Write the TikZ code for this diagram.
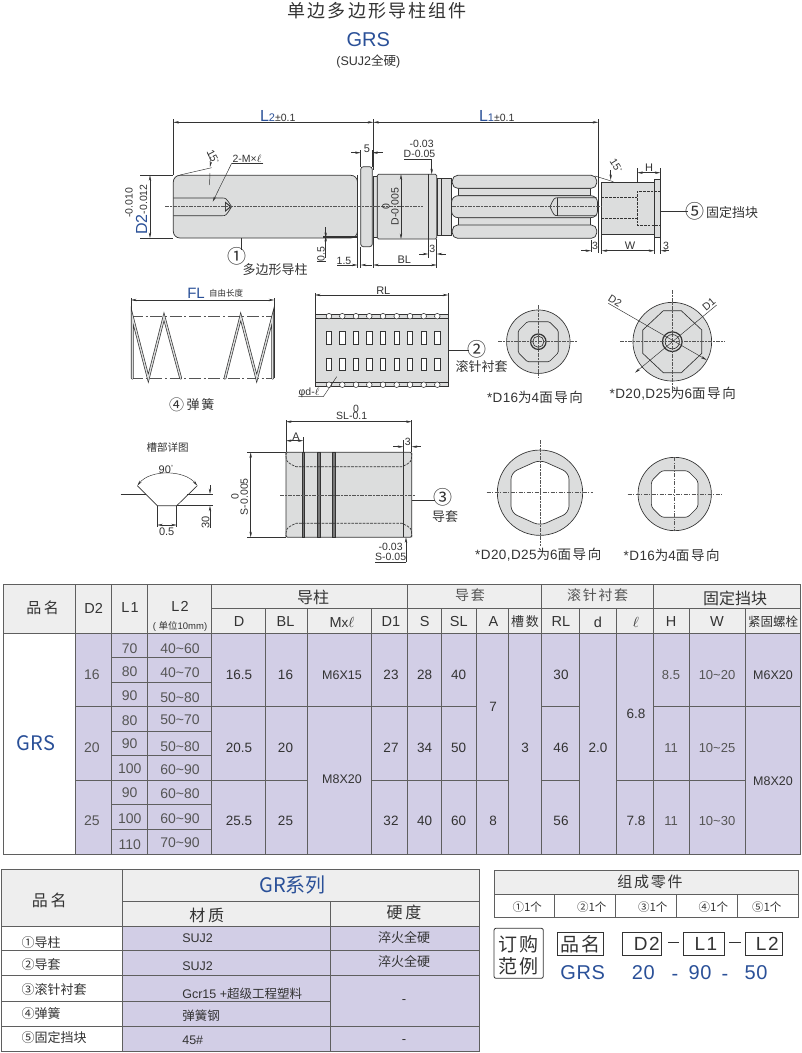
\documentclass[tikz,border=0pt]{standalone}
\usepackage{fontspec}
\usetikzlibrary{arrows.meta}
\setmainfont{Liberation Sans}
\newfontfamily\cjk{Noto Sans CJK SC}
\newfontfamily\cjkw[LetterSpace=12]{Noto Sans CJK SC}
\newfontfamily\latw[LetterSpace=8]{Liberation Sans}
\newfontfamily\latn[LetterSpace=3]{Liberation Sans}
\newcommand\C[1]{{\cjk #1}}
\newcommand\W[1]{{\cjkw #1}}
\makeatletter
\newcommand\fz[1]{\edef\my@s{\strip@pt\dimexpr #1pt*3/4\relax}\fontsize{\my@s}{\my@s}\selectfont}
\makeatother
\definecolor{ink}{HTML}{333333}
\definecolor{blue2}{HTML}{2A5098}
\definecolor{part}{HTML}{DCDDDD}
\definecolor{cell}{HTML}{D2CEE6}
\definecolor{head}{HTML}{EEEEEE}
\definecolor{rule}{HTML}{5F5F5F}
\definecolor{soft}{HTML}{555555}
\newcounter{tn}
\newcommand\tx[4][]{\stepcounter{tn}\node[txt,#1] (t\thetn) at (#2,#3) {#4};}
\tikzset{
  txt/.style={inner sep=0pt,outer sep=0pt,text=ink,font=\fz{11}},
  ln/.style={draw=ink,line width=.5pt},
  thin line/.style={draw=ink,line width=.35pt},
  solid part/.style={fill=part,draw=ink,line width=.55pt},
  dimline/.style={draw=ink,line width=.35pt,{Stealth[length=4.2pt,width=1.8pt]}-{Stealth[length=4.2pt,width=1.8pt]}},
  endarrow/.style={draw=ink,line width=.35pt,-{Stealth[length=4.2pt,width=1.8pt]}},
  startarrow/.style={draw=ink,line width=.35pt,{Stealth[length=4.2pt,width=1.8pt]}-},
  centerline/.style={draw=soft,line width=.4pt,dash pattern=on 3pt off 1pt on 1pt off 1pt},
  hidden/.style={draw=ink,line width=.5pt,dash pattern=on 2pt off .8pt},
  chain/.style={draw=soft,line width=.45pt,dash pattern=on 9pt off 2pt on 1.5pt off 2pt},
  coil/.style={double=part,draw=ink,line width=.5pt,double distance=1pt,line cap=round},
  tline/.style={draw=rule,line width=.55pt},
  cellt/.style={txt,font=\fz{14}},
  big/.style={txt,font=\fz{13}},
}
\begin{document}
\begin{tikzpicture}[x=.75pt,y=-.75pt]
\useasboundingbox (0,0) rectangle (802,1053);
\fill[white] (0,0) rectangle (802,1053);
% ---------- title
\tx[font=\fz{18}]{377.3}{10.7}{\W{单边多边形导柱组件}}
\tx[font=\fz{20},text=blue2]{368.3}{40}{GRS}
\tx[font=\fz{12.5}]{368.3}{61}{(SUJ2\C{全硬})}
% ---------- main drawing : guide post
\draw[solid part,rounded corners=5pt] (357.5,175.3) -- (173.3,175.3) -- (173.3,238) -- (357.5,238) -- cycle;
\draw[ln] (173.3,198) -- (222,198) .. controls (226,198) .. (231.6,206.7) .. controls (226,215.7) .. (222,215.7) -- (173.3,215.7);
\fill[ink] (225,201.5) -- (231.6,206.7) -- (225,211.9) -- cycle;
\fill[part] (225.8,203.5) -- (229.6,206.7) -- (225.8,209.9) -- cycle;
\draw[draw=ink,line width=1.3pt] (357.6,175.3) -- (357.6,238);
\draw[draw=ink,line width=1pt] (323,237) -- (357,237);
\draw[solid part,rounded corners=2pt] (360.7,166.7) -- (372.3,166.7) -- (372.3,246.7) -- (360.7,246.7) -- cycle;
\draw[solid part] (373.3,176) rectangle (377.3,237);
\draw[solid part,rounded corners=1pt] (377.3,174.3) rectangle (436.7,239);
\draw[ln] (428.3,174.3) -- (428.3,239);
\draw[solid part] (437.5,178.3) rectangle (451.7,235.7);
\draw[ln] (441,178.3) -- (441,235.7);
% bearing row
\draw[solid part] (458,188.3) rectangle (590.7,195.7);
\draw[solid part] (458,217.7) rectangle (590.7,225);
\draw[solid part,rounded corners=4pt] (452.3,175.3) rectangle (596.7,188.3);
\draw[solid part,rounded corners=5pt] (451.5,195.7) rectangle (597.5,217.7);
\draw[solid part,rounded corners=4pt] (452.3,225) rectangle (596.7,238.3);
\draw[ln] (598.3,119) -- (598.3,253);
\draw[ln] (596.7,197.7) -- (557.7,197.7) .. controls (554,198) .. (550,206.7) .. controls (554,215.5) .. (557.7,215.7) -- (596.7,215.7);
\draw[ln] (557.7,197.7) -- (557.7,215.7);
% fixed block
\draw[solid part] (601.7,182.3) rectangle (654.3,234);
\draw[solid part] (654.3,179.3) rectangle (660.7,237.3);
\draw[hidden] (601.7,197.7) -- (637.3,197.7);
\draw[hidden] (601.7,218.3) -- (637.3,218.3);
\draw[hidden] (660.7,191.7) -- (637.3,191.7) -- (637.3,225) -- (660.7,225);
\draw[centerline] (165,206.7) -- (423,206.7);
\draw[centerline] (452,206.7) -- (602,206.7);
% dimensions, main
\draw[thin line] (173.3,119) -- (173.3,175);
\draw[thin line] (373.3,119) -- (373.3,170);
\draw[dimline] (173.3,122.3) -- (373.3,122.3);
\draw[dimline] (373.3,122.3) -- (598.3,122.3);
\node[txt,anchor=base west] (l2a) at (260,121) {\fz{16}\textcolor{blue2}{L}\fz{11}\textcolor{blue2}{2}\fz{10.5}±0.1};
\node[txt,anchor=base west] (l1a) at (479,121) {\fz{16}\textcolor{blue2}{L}\fz{11}\textcolor{blue2}{1}\fz{10.5}±0.1};
\draw[thin line] (360.7,150) -- (360.7,167);
\draw[thin line] (372.3,150) -- (372.3,167);
\draw[startarrow] (360.7,152.7) -- (351,152.7);
\draw[startarrow] (372.3,152.7) -- (383,152.7);
\tx[font=\fz{11}]{367}{148.3}{5}
\tx[font=\fz{10.5}]{421.7}{144}{-0.03}
\tx[font=\fz{10.5}]{419.5}{154.3}{D-0.05}
\draw[thin line] (404.3,159) -- (431.7,159);
\draw[endarrow] (431.7,159) -- (431.7,174.3);
\draw[thin line] (140,175.3) -- (173,175.3);
\draw[thin line] (140,238) -- (173,238);
\draw[dimline] (150,175.3) -- (150,238);
\tx[rotate=90,font=\fz{10.5}]{129}{203}{-0.010}
\node[txt,rotate=90] (d2lab) at (141.5,209.5) {\fz{16}\textcolor{blue2}{D2}\fz{10.5}-0.012};
\draw[thin line] (180,175) -- (211.7,167.7);
\draw[draw=ink,line width=.35pt,{Stealth[length=4.2pt,width=1.8pt]}-] (210,167) .. controls (211,161) .. (207,151.7);
\draw[thin line] (210,173) -- (209.5,185);
\tx[rotate=-62,font=\fz{10.5}]{213}{157}{15\raisebox{.5ex}{\fz{6}°}}
\tx[font=\fz{10.5}]{247}{158.5}{2-M×$\ell$}
\draw[thin line] (263.3,163.3) -- (231.7,163.3);
\draw[endarrow] (231.7,163.3) -- (212.7,201.7);
\draw[thin line] (241,238) -- (241,250);
\tx[font=\fz{19}]{237}{256.7}{\C{①}}
\tx[big]{275}{270}{\C{多边形导柱}}
\draw[dimline] (401,174.3) -- (401,239);
\tx[rotate=90,font=\fz{10.5}]{386}{206.7}{0}
\tx[rotate=90,font=\fz{10.5}]{395}{206.7}{D-0.005}
\draw[thin line] (317,261.7) -- (325.7,261.7);
\draw[startarrow] (325.7,238) -- (325.7,226.7);
\draw[startarrow] (325.7,236) -- (325.7,258);
\tx[rotate=90,font=\fz{10.5}]{321}{254}{0.5}
\draw[thin line] (357.5,238) -- (357.5,268);
\draw[thin line] (360.7,246.7) -- (360.7,268);
\draw[thin line] (373.3,237) -- (373.3,268);
\draw[thin line] (436.7,239) -- (436.7,268);
\draw[thin line] (428.3,239) -- (428.3,258);
\draw[startarrow] (357.5,265) -- (336.7,265);
\draw[startarrow] (360.7,265) -- (372,265);
\tx[font=\fz{10.5}]{344}{260.7}{1.5}
\draw[dimline] (373.3,265) -- (436.7,265);
\tx[font=\fz{11}]{404.3}{260}{BL}
\draw[startarrow] (428.3,254) -- (419,254);
\draw[startarrow] (436.7,254) -- (446,254);
\tx[font=\fz{10.5}]{432.3}{249}{3}
% right-hand dims
\draw[thin line] (595,176) -- (613.3,181.7);
\draw[endarrow] (610.7,170) -- (610.7,180);
\tx[rotate=-58,font=\fz{10.5}]{616}{166}{15\raisebox{.5ex}{\fz{6}°}}
\draw[thin line] (637.3,168) -- (637.3,182);
\draw[thin line] (660.4,168) -- (660.4,180);
\draw[dimline] (637.3,172.7) -- (660.4,172.7);
\tx[font=\fz{11}]{649}{167.5}{H}
\draw[thin line] (591,240) -- (591,252);
\draw[thin line] (601.7,234) -- (601.7,254);
\draw[thin line] (654.3,234) -- (654.3,254);
\draw[thin line] (660.7,237) -- (660.7,254);
\draw[startarrow] (591,250.7) -- (581,250.7);
\draw[dimline] (601.7,250.7) -- (654.3,250.7);
\draw[startarrow] (660.7,250.7) -- (669,250.7);
\tx[font=\fz{10.5}]{595}{245.7}{3}
\tx[font=\fz{11}]{630}{245.7}{W}
\tx[font=\fz{10.5}]{666}{245.7}{3}
\draw[thin line] (660.7,211.7) -- (688,211.7);
\tx[font=\fz{19}]{695}{211}{\C{⑤}}
\tx[big]{732}{213}{\C{固定挡块}}
% ---------- spring
\draw[chain] (131,316.7) -- (274,316.7);
\draw[chain] (131,378.3) -- (274,378.3);
\draw[thin line] (131,298) -- (131,378);
\draw[thin line] (274.3,298) -- (274.3,378);
\draw[dimline] (131,300) -- (274.3,300);
\draw[coil] (132.3,378.3) -- (132.3,316.7) -- (148.3,378.3) -- (164,316.7) -- (180.7,378.3);
\draw[coil] (225,378.3) -- (240.7,316.7) -- (256.7,378.3) -- (272.7,316.7) -- (272.7,378.3);
\tx[font=\fz{15},text=blue2]{196}{293.3}{FL}
\tx[font=\fz{8.5}]{226}{293.3}{\C{自由长度}}
\tx[font=\fz{15}]{176.7}{405}{\C{④}}
\tx[big]{200.5}{405}{\W{弹簧}}
% ---------- needle cage
\draw[thin line] (315,293) -- (315,314);
\draw[thin line] (448.3,293) -- (448.3,314);
\draw[dimline] (315,295) -- (448.3,295);
\tx[font=\fz{11}]{383.3}{290.5}{RL}
\fill[part] (315,314.3) rectangle (448.3,386.7);
\draw[ln] (315,314.3) rectangle (448.3,386.7);
\draw[ln] (315,318.3) -- (448.3,318.3);
\draw[ln] (315,382.7) -- (448.3,382.7);
\foreach \cx in {329,342.3,356,369.3,383,396.7,410,423.7,437.3} {
  \draw[fill=white,draw=ink,line width=.4pt] (\cx,316.2) circle[radius=2.1pt];
  \draw[fill=white,draw=ink,line width=.4pt] (\cx,384.7) circle[radius=2.1pt];
  \draw[fill=white,draw=ink,line width=.45pt] (\cx-2.6,331.7) rectangle (\cx+2.6,344.3);
  \draw[fill=white,draw=ink,line width=.45pt] (\cx-2.6,358.3) rectangle (\cx+2.6,370);
}
\draw[thin line] (448.3,350) -- (469,350);
\tx[font=\fz{19}]{476.7}{349}{\C{②}}
\tx[big]{481.7}{366.7}{\C{滚针衬套}}
\tx[font=\fz{10.5}]{309}{393}{φd-$\ell$}
\draw[thin line] (298.3,396.7) -- (323.3,396.7) -- (336.7,376.7);
% ---------- end views top
\fill[part,draw=ink,line width=.5pt] (538.3,341.7) circle[radius=23.8pt];
\begin{scope}[shift={(538.3,341.7)}]
\draw[ln,rounded corners=1pt] (-11,-20) -- (11,-20) -- (20,-11) -- (20,11) -- (11,20) -- (-11,20) -- (-20,11) -- (-20,-11) -- cycle;
\draw[draw=ink,line width=.9pt,fill=part] (0,0) circle[radius=5.8pt];
\draw[draw=ink,line width=.5pt] (0,0) circle[radius=4.2pt];
\end{scope}
\draw[centerline] (498,341.7) -- (578,341.7);
\draw[centerline] (538.3,305) -- (538.3,378);
\fill[part,draw=ink,line width=.5pt] (672.3,341.7) circle[radius=29.5pt];
\begin{scope}[shift={(672.3,341.7)}]
\draw[ln] (-9,-31) -- (9,-31) -- (29.5,-11.7) -- (29.5,11.7) -- (9,31) -- (-9,31) -- (-29.5,11.7) -- (-29.5,-11.7) -- cycle;
\draw[draw=ink,line width=.9pt,fill=part] (0,0) circle[radius=7.4pt];
\draw[draw=ink,line width=.5pt] (0,0) circle[radius=5.4pt];
\end{scope}
\draw[centerline] (620,341.7) -- (725,341.7);
\draw[centerline] (672.3,290) -- (672.3,393);
\draw[endarrow] (608.3,303.3) -- (706.7,360);
\draw[endarrow] (716.7,305) -- (635,372.7);
\tx[rotate=-32,font=\fz{10.5}]{615}{301}{D2}
\tx[rotate=40,font=\fz{10.5}]{709}{304}{D1}
\tx[font=\fz{13.5}]{535}{397.3}{{\latn *D16}\W{为}{\latn 4}\W{面导向}}
\tx[font=\fz{13.5}]{672.7}{394}{{\latn *D20,D25}\W{为}{\latn 6}\W{面导向}}
% ---------- groove detail
\tx[font=\fz{10.5}]{167.7}{447.7}{\C{槽部详图}}
\draw[ln] (120.7,494) -- (146,494);
\draw[ln] (187.3,494) -- (197,494);
\draw[ln] (137.3,485.7) -- (157.3,505.7) -- (176.7,505.7) -- (197.3,485.7);
\draw[dimline] (137.3,485.7) .. controls (150,469.5) and (184,469.5) .. (197.3,485.7);
\tx[font=\fz{11}]{166}{469.3}{90\raisebox{.6ex}{\fz{6}°}}
\draw[thin line] (157.3,505.7) -- (157.3,527);
\draw[thin line] (176.7,505.7) -- (176.7,527);
\draw[dimline] (157.3,525) -- (176.7,525);
\tx[font=\fz{11}]{166.7}{531.5}{0.5}
\draw[thin line] (197,494) -- (213,494);
\draw[thin line] (176.7,505.7) -- (213,505.7);
\draw[startarrow] (210,494) -- (210,485);
\draw[startarrow] (210,505.7) -- (210,528);
\tx[rotate=90,font=\fz{11}]{205.7}{522.3}{30}
% ---------- guide sleeve
\fill[part] (286,452.3) rectangle (411.7,537.3);
\draw[ln,rounded corners=1pt] (286,452.3) rectangle (411.7,537.3);
\foreach \gx in {302,317.3,332.3} {
  \draw[draw=ink,line width=.3pt,fill=rule!85] (\gx,452.3) rectangle (\gx+2.5,537.3);
}
\draw[hidden] (286,452.3) .. controls (286,462) .. (296,466.7) -- (402,466.7) .. controls (411.7,462) .. (411.7,452.3);
\draw[hidden] (286,537.3) .. controls (286,528) .. (296,523.3) -- (402,523.3) .. controls (411.7,528) .. (411.7,537.3);
\draw[draw=ink,line width=.65pt] (403.3,452.3) -- (403.3,537.3);
\draw[centerline] (280,495) -- (415,495);
\draw[thin line] (286,420) -- (286,452);
\draw[thin line] (411.7,420) -- (411.7,452);
\draw[dimline] (286,421.7) -- (411.7,421.7);
\tx[font=\fz{10.5}]{356}{408.5}{0}
\tx[font=\fz{10.5}]{351.7}{416.2}{SL-0.1}
\draw[thin line] (303.3,437) -- (303.3,452);
\draw[dimline] (286,440.7) -- (303.3,440.7);
\tx[font=\fz{11}]{296}{436.5}{A}
\draw[thin line] (403.3,440) -- (403.3,452);
\draw[startarrow] (403.3,446.7) -- (393,446.7);
\draw[startarrow] (411.7,446.7) -- (421,446.7);
\tx[font=\fz{10.5}]{407.7}{442.3}{3}
\draw[thin line] (247.3,452.3) -- (286,452.3);
\draw[thin line] (247.3,537.3) -- (286,537.3);
\draw[dimline] (250.7,452.3) -- (250.7,537.3);
\tx[rotate=90,font=\fz{10.5}]{235}{496.7}{0}
\tx[rotate=90,font=\fz{10.5}]{244.3}{496.7}{S-0.005}
\draw[thin line] (411.7,500) -- (435,500);
\tx[font=\fz{19}]{443.3}{497.3}{\C{③}}
\tx[big]{445}{516.7}{\C{导套}}
\tx[font=\fz{10.5}]{390.7}{547.3}{-0.03}
\tx[font=\fz{10.5}]{390.7}{557.3}{S-0.05}
\draw[thin line] (375,562.3) -- (406,562.3);
\draw[endarrow] (406,562.3) -- (406,537.3);
% ---------- end views bottom
\fill[part,draw=ink,line width=.5pt] (540,492.7) circle[radius=32pt];
\begin{scope}[shift={(540,492.7)}]
\draw[ln,fill=white,rounded corners=5pt] (0,-33) -- (29,-20) -- (29,20) -- (0,33) -- (-29,20) -- (-29,-20) -- cycle;
\end{scope}
\draw[centerline] (486.7,492.7) -- (593.3,492.7);
\draw[centerline] (540,440) -- (540,545.7);
\fill[part,draw=ink,line width=.5pt] (674.7,494) circle[radius=27.5pt];
\begin{scope}[shift={(674.7,494)}]
\draw[ln,fill=white,rounded corners=2pt] (-13,-23.3) -- (13,-23.3) -- (23.3,-13) -- (23.3,13) -- (13,23.3) -- (-13,23.3) -- (-23.3,13) -- (-23.3,-13) -- cycle;
\end{scope}
\draw[centerline] (627.7,494) -- (721.7,494);
\draw[centerline] (674.7,457.3) -- (674.7,531);
\tx[font=\fz{13.5}]{538.3}{555}{{\latn *D20,D25}\W{为}{\latn 6}\W{面导向}}
\tx[font=\fz{13.5}]{671.7}{555}{{\latn *D16}\W{为}{\latn 4}\W{面导向}}
% ---------- table 1
\fill[head] (3,584.3) rectangle (800.5,633.3);
\fill[cell] (75.3,633.3) rectangle (800.5,854);
\foreach \xa/\ya/\xb/\yb in {
  211.7/608.3/800.5/608.3, 3/633.3/800.5/633.3,
  75.3/706.7/407.3/706.7, 75.3/780/307.7/780, 371.7/780/407.3/780,
  407.3/706.7/476.3/706.7, 476.3/780/508.3/780, 407.3/780/476.3/780,
  541.3/706.7/579/706.7, 541.3/780/579/780, 616.7/780/653.3/780,
  653.3/706.7/800.5/706.7, 653.3/780/745/780,
  111.7/657.7/211.7/657.7, 111.7/682.3/211.7/682.3,
  111.7/731.7/211.7/731.7, 111.7/755.7/211.7/755.7,
  111.7/804.3/211.7/804.3, 111.7/829/211.7/829,
  75.3/584.3/75.3/854, 111.7/584.3/111.7/854, 147.7/584.3/147.7/854, 211.7/584.3/211.7/854,
  265.7/608.3/265.7/854, 307.7/608.3/307.7/854, 371.7/608.3/371.7/854, 407.3/584.3/407.3/854,
  441.7/608.3/441.7/854, 476.3/608.3/476.3/854, 508.3/608.3/508.3/854, 541.3/584.3/541.3/854,
  579/608.3/579/854, 616.7/608.3/616.7/854, 653.3/584.3/653.3/854, 689.3/608.3/689.3/854, 745/608.3/745/854
} {\draw[tline] (\xa,\ya) -- (\xb,\yb);}
\draw[tline] (3,584.3) rectangle (800.5,854);
\tx[font=\fz{15}]{42.7}{607.7}{\W{品\,名}}
\tx[font=\fz{14.5}]{93.7}{608}{D2}
\tx[font=\fz{14.5}]{130}{608}{{\latw L1}}
\tx[font=\fz{14.5}]{180}{606.5}{{\latw L2}}
\tx[font=\fz{9.5}]{180}{626.7}{( \C{单位}10mm)}
\tx[font=\fz{16}]{313}{597.3}{\C{导柱}}
\tx[font=\fz{14},text=soft]{470}{595.5}{\W{导套}}
\tx[font=\fz{14},text=soft]{597.7}{595.5}{\W{滚针衬套}}
\tx[font=\fz{16}]{735}{598}{\C{固定挡块}}
\foreach \hx/\hname in {239/D,285.5/BL,342/M{\fz{13.5}x}$\ell$,391/D1,424.7/S,458.7/SL,493.5/A,525/\W{\fz{13}槽数},561/RL,598/d,636/$\ell$,671/H,717/W} {
  \tx[font=\fz{14.5}]{\hx}{622}{\hname}
}
\tx[font=\fz{12.5}]{773}{622}{\C{紧固螺栓}}
\tx[font=\fz{20}, text=blue2]{36}{743.3}{\C{GRS}}
\foreach \cy/\ct in {675/16,747.7/20,820.7/25} {\tx[cellt,text=soft]{92}{\cy}{\ct}}
\foreach \cy/\ct in {648.3/70,672/80,696/90,721/80,744/90,769/100,793/90,819/100,845/110} {\tx[cellt,text=soft]{129.7}{\cy}{\ct}}
\foreach \cy/\ct in {648.3/40\textasciitilde 60,673/40\textasciitilde 70,698/50\textasciitilde 80,720/50\textasciitilde 70,747/50\textasciitilde 80,770/60\textasciitilde 90,794/60\textasciitilde 80,819/60\textasciitilde 90,843/70\textasciitilde 90} {\tx[cellt,text=soft]{180}{\cy}{\ct}}
\foreach \cx/\cy/\ct in {
  239/675/16.5,239/747.7/20.5,239/820.7/25.5,
  285.5/675/16,285.5/747.7/20,285.5/820.7/25,
  391/675/23,391/747.7/27,391/820.7/32,
  424.7/675/28,424.7/747.7/34,424.7/820.7/40,
  458.7/675/40,458.7/747.7/50,458.7/820.7/60,
  493/707/7,493/820.7/8,525/747.7/3,
  561/675/30,561/747.7/46,561/820.7/56,
  598/747.7/2.0,636/714/6.8,636/820.7/7.8} {\tx[font=\fz{13.5}]{\cx}{\cy}{\ct}}
\tx[font=\fz{12.5}]{342}{675}{M6X15}
\tx[font=\fz{12.5}]{342}{779.3}{M8X20}
\foreach \cx/\cy/\ct in {671/675/8.5,671/747.7/11,671/820.7/11,717/675/10\textasciitilde 20,717/747.7/10\textasciitilde 25,717/820.7/10\textasciitilde 30} {\tx[font=\fz{13},text=soft]{\cx}{\cy}{\ct}}
\tx[font=\fz{12.5}]{773}{675}{M6X20}
\tx[font=\fz{12.5}]{773}{781}{M8X20}
% ---------- table 2
\fill[head] (1.5,869) rectangle (479,926);
\fill[cell] (122.7,926) rectangle (479,1051);
\foreach \xa/\ya/\xb/\yb in {
  122.7/901/479/901, 1.5/926/479/926, 1.5/950.7/479/950.7, 1.5/975.7/479/975.7,
  1.5/1001/330.7/1001, 1.5/1026.7/479/1026.7,
  122.7/869/122.7/1051, 330.7/901/330.7/1051} {\draw[tline] (\xa,\ya) -- (\xb,\yb);}
\draw[tline] (1.5,869) rectangle (479,1051);
\tx[font=\fz{16}]{49.3}{900}{\W{品\,名}}
\tx[font=\fz{20},text=blue2]{292.7}{885}{\C{GR系列}}
\tx[font=\fz{16}]{206.7}{915}{\W{材\,质}}
\tx[font=\fz{16}]{404}{912.3}{\W{硬\,度}}
\foreach \cy/\ct in {942.3/①导柱,965/②导套,989.3/③滚针衬套,1013.3/④弹簧,1037.7/⑤固定挡块} {
  \stepcounter{tn}\node[txt,font=\fz{13},anchor=west] (t\thetn) at (21.7,\cy) {\C{\ct}};
}
\foreach \cy/\ct in {938.3/SUJ2,966/SUJ2,993.3/Gcr15 +\C{超级工程塑料},1015.7/\C{弹簧钢},1040/45\#} {
  \stepcounter{tn}\node[txt,font=\fz{12.5},anchor=west] (t\thetn) at (182.3,\cy) {\ct};
}
\foreach \cy/\ct in {937.7/\C{淬火全硬},961.7/\C{淬火全硬},1002/-,1042/-} {\tx[big]{404}{\cy}{\ct}}
% ---------- table 3
\fill[head] (494,870.7) rectangle (798.3,894);
\draw[tline] (494,870.7) rectangle (798.3,917.7);
\draw[tline] (494,894) -- (798.3,894);
\foreach \vx in {554.7,615.7,676.7,737.3} {\draw[tline] (\vx,894) -- (\vx,917.7);}
\tx[font=\fz{15}]{650}{881.7}{\W{组成零件}}
\foreach \cx/\ct in {527.3/①,591.7/②,652.7/③,713.3/④,766.7/⑤} {\tx[font=\fz{11.5}]{\cx}{907.3}{\C{\ct 1个}}}
% ---------- order example
\draw[draw=ink,line width=.6pt,rounded corners=1.5pt] (494,928.3) rectangle (543.3,978.3);
\tx[font=\fz{19}]{518.3}{944.3}{\W{订购}}
\tx[font=\fz{19}]{518.3}{966}{\W{范例}}
\foreach \xa/\xb in {557.3/603.3,622.3/661.7,683.3/724.3,745/782.7} {\draw[draw=ink,line width=.6pt] (\xa,932.7) rectangle (\xb,955.7);}
\tx[font=\fz{19}]{580.3}{944}{\W{品名}}
\tx[font=\fz{19}]{646.7}{944}{{\latw D2}}
\tx[font=\fz{19}]{706}{944}{{\latw L1}}
\tx[font=\fz{19}]{767.3}{944}{{\latw L2}}
\draw[draw=ink,line width=.5pt] (668.3,942.7) -- (679,942.7);
\draw[draw=ink,line width=.5pt] (729.3,942.7) -- (740.7,942.7);
\foreach \cx/\ct in {582.7/GRS,643.3/20,700/90,756/50} {\tx[font=\fz{20},text=blue2]{\cx}{972.7}{{\latn \ct}}}
\foreach \cx in {675,725} {\tx[font=\fz{20},text=blue2]{\cx}{977}{-}}
\end{tikzpicture}
\end{document}
